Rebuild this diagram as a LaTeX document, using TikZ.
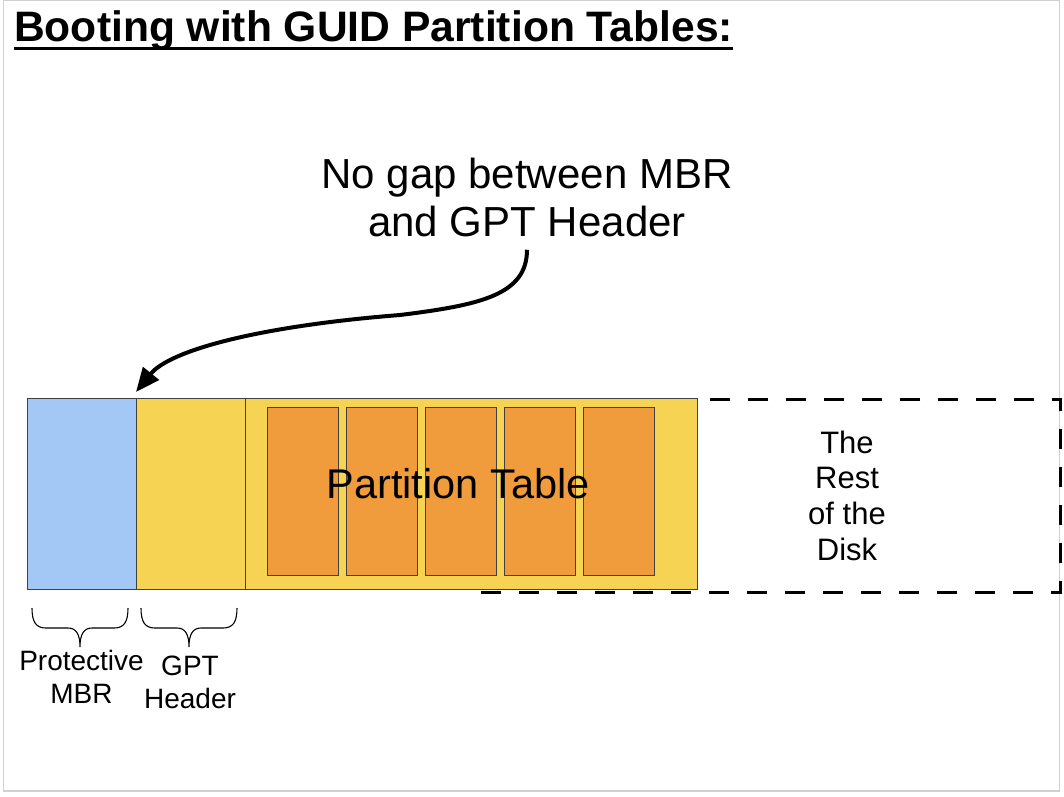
\documentclass[tikz,border=0pt]{standalone}
\usepackage{fontspec}
\setmainfont{Liberation Sans}
\usetikzlibrary{arrows.meta}
\definecolor{mbrblue}{RGB}{164,200,245}
\definecolor{gptyellow}{RGB}{246,211,82}
\definecolor{ptorange}{RGB}{240,155,60}
\definecolor{framegray}{RGB}{208,208,208}
\newcommand{\mybrace}[3]{% left x, right x, top y
  \draw[line width=1.1pt] (#1,#3) .. controls (#1,#3+14) and (#1+4,#3+20) .. (#1+14,#3+20)
    -- ({(#1+#2)/2-12},#3+20) .. controls ({(#1+#2)/2-4},#3+20) and ({(#1+#2)/2},#3+26) .. ({(#1+#2)/2},#3+39)
    .. controls ({(#1+#2)/2},#3+26) and ({(#1+#2)/2+4},#3+20) .. ({(#1+#2)/2+12},#3+20)
    -- (#2-14,#3+20) .. controls (#2-4,#3+20) and (#2,#3+14) .. (#2,#3);}
\begin{document}
\begin{tikzpicture}[x=1pt,y=-1pt,
  seg/.style={draw=black!75, line width=0.9pt, inner sep=0pt, anchor=north west, minimum height=191pt},
  entry/.style={draw=black!75, line width=0.9pt, inner sep=0pt, anchor=north west, fill=ptorange, minimum width=71pt, minimum height=168pt},
  lbl/.style={inner sep=0pt, align=center, anchor=north}
]
\useasboundingbox (0,0) rectangle (1064,796);
\draw[framegray, line width=1.5pt] (3.5,0.5) rectangle (1059.5,791);

% title
\node[anchor=base west, inner sep=0pt, font=\fontsize{42.6}{48}\selectfont\bfseries] (title) at (14,41)
  {Booting with GUID Partition Tables:};
\draw[line width=3pt] ([yshift=-7pt]title.base west) -- ([yshift=-7pt]title.base east);

% rest of disk
\node[draw, line width=2.5pt, dash pattern=on 20pt off 18pt, inner sep=0pt, anchor=north west,
      minimum width=579pt, minimum height=193pt] (rest) at (480,398) {};
\node[lbl, font=\fontsize{31}{35.7}\selectfont] (resttext) at (847,430.4) {The\\Rest\\of the\\Disk};

% strip
\node[seg, fill=mbrblue, minimum width=109pt] (mbr) at (27,398) {};
\node[seg, fill=gptyellow, minimum width=109pt] (gpt) at (136,398) {};
\node[seg, fill=gptyellow, minimum width=452pt] (pt) at (245,398) {};
\node[entry] (e0) at (267,407) {};
\node[entry] (e1) at (346,407) {};
\node[entry] (e2) at (425,407) {};
\node[entry] (e3) at (504,407) {};
\node[entry] (e4) at (583,407) {};
\node[anchor=base, inner sep=0pt, font=\fontsize{41.5}{48}\selectfont] (pttext) at (458,498.5) {Partition Table};

% top label and arrow
\node[lbl, font=\fontsize{42}{48}\selectfont] (gap) at (527,157.5) {No gap between MBR\\and GPT Header};
\coordinate (tip) at (136,392);
\draw[line width=4pt, -{Triangle[length=24pt,width=20pt]}]
  ([yshift=-13pt]gap.south) .. controls (527,295) and (480,305) .. (400,315)
  .. controls (260,326) and (170,350) .. (tip);

% braces and labels
\mybrace{32}{128}{608}
\mybrace{141}{237}{608}
\node[lbl, font=\fontsize{28}{33}\selectfont] (mbrlbl) at (81.5,649.6) {Protective\\MBR};
\node[lbl, font=\fontsize{28}{33}\selectfont] (gptlbl) at (190,655.6) {GPT\\Header};
\end{tikzpicture}
\end{document}
